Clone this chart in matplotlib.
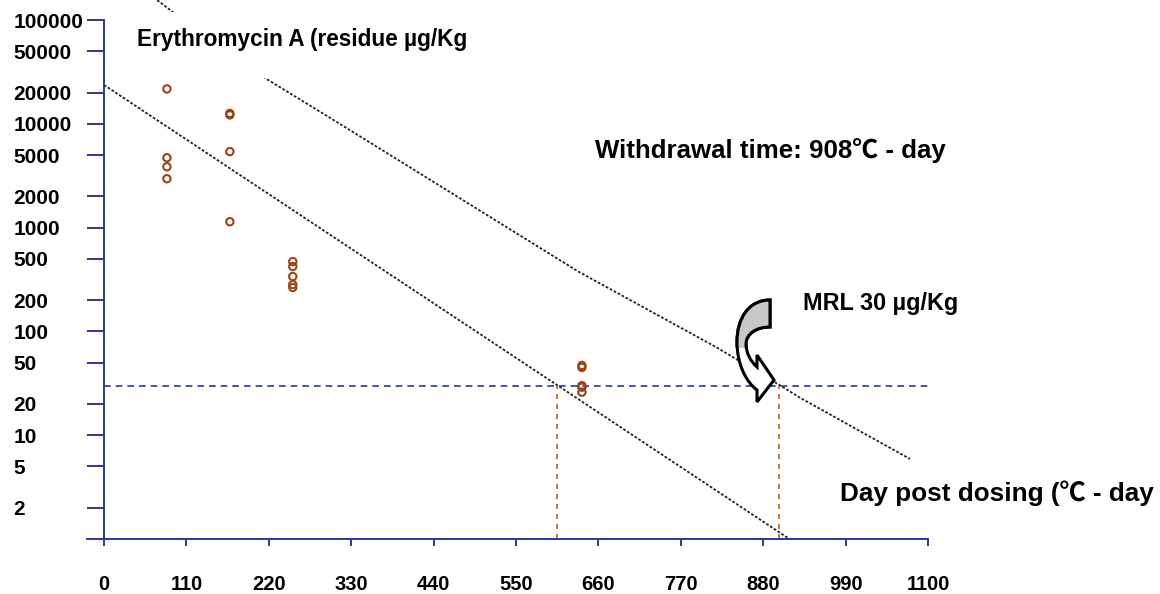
import numpy as np
import matplotlib.pyplot as plt
from matplotlib.patches import PathPatch, Rectangle
from matplotlib.path import Path

plt.rcParams['font.family'] = ['Liberation Sans', 'Noto Sans CJK SC']
plt.rcParams['font.weight'] = 'bold'

# residue samples (degree-days post dosing, ug/Kg)
sample_days = [84, 84, 84, 84, 168, 168, 168, 168, 252, 252, 252, 252, 252, 638, 638, 638, 638, 638]
sample_residue = [21700, 4710, 3860, 2960, 12200, 12600, 5400, 1140,
                  471, 422, 338, 283, 265, 45, 47, 30, 29, 26]

# regression line and upper tolerance limit
reg_days = [0, 915]
reg_residue = [23700, 1]
tol_days = [71, 92, 219, 302, 633, 818, 900, 929, 1076]
tol_residue = [155700, 119400, 26500, 11400, 378, 70, 31, 23, 5.9]

mrl = 30
cross_reg = 605
cross_tol = 901

xticks = [0, 110, 220, 330, 440, 550, 660, 770, 880, 990, 1100]
yticks = [2, 5, 10, 20, 50, 100, 200, 500, 1000, 2000, 5000, 10000, 20000, 50000, 100000]

navy = '#2b3990'
W, H = 1160, 594


def px(x, y):
    # picture pixel (from top left) -> figure fraction
    return (x / W, 1 - y / H)


fig = plt.figure(figsize=(11.6, 5.94), dpi=100)
ax = fig.add_axes([87 / W, 55 / H, 1073 / W, 539 / H])
ax.set_yscale('log')
ax.set_xlim(-22.7, 1409.7)
ax.set_ylim(1, 1.56e5)

ax.spines['top'].set_visible(False)
ax.spines['right'].set_visible(False)
ax.spines['left'].set_position(('data', 0))
ax.spines['left'].set_bounds(1, 100000)
ax.spines['bottom'].set_bounds(-22.7, 1100)
for s in ['left', 'bottom']:
    ax.spines[s].set_color(navy)
    ax.spines[s].set_linewidth(1.4)

ax.yaxis.set_major_locator(plt.FixedLocator(yticks))
ax.yaxis.set_minor_locator(plt.NullLocator())
ax.set_yticklabels([str(v) for v in yticks])
ax.set_xticks(xticks)
ax.set_xticklabels([str(v) for v in xticks])
ax.tick_params(axis='y', direction='out', length=12, width=1.4, color=navy, pad=53, labelsize=15)
ax.tick_params(axis='x', direction='out', length=5, width=1.4, color=navy, pad=21, labelsize=14.5)
for lbl in ax.get_yticklabels():
    lbl.set_horizontalalignment('left')

# lines
ax.plot(reg_days, reg_residue, color='#222222', lw=1.3, ls=(0, (1.5, 1)))
ax.plot(tol_days, tol_residue, color='#222222', lw=1.3, ls=(0, (1.5, 1)))
ax.plot([0, 1100], [mrl, mrl], color=navy, lw=1.2, ls=(0, (4, 3)))
ax.plot([cross_reg, cross_reg], [1, mrl], color='#b5651d', lw=1.2, ls=(0, (3, 3)))
ax.plot([cross_tol, cross_tol], [1, mrl], color='#b5651d', lw=1.2, ls=(0, (3, 3)))

ax.scatter(sample_days, sample_residue, s=28, facecolors='none', edgecolors='#9a4418', linewidths=1.5, zorder=3)

# white box behind the title
fig.patches.append(Rectangle(px(140, 78), 340 / W, 66 / H,
                             transform=fig.transFigure, facecolor='white', edgecolor='none', zorder=2))
fig.text(*px(137, 46), 'Erythromycin A (residue µg/Kg', fontsize=16.3, fontweight='bold', zorder=3)
fig.text(*px(595, 158), 'Withdrawal time: 908℃ - day', fontsize=18.6, fontweight='bold')
fig.text(*px(803, 310), 'MRL 30 µg/Kg', fontsize=16.8, fontweight='bold')
fig.text(*px(840, 501), 'Day post dosing (℃ - day', fontsize=18.8, fontweight='bold')

# curved block arrow pointing at the MRL crossing, grey on the upper half
verts = [(770, 300),
         (749, 300), (737, 318), (737, 342),
         (737, 364), (746, 382), (757, 390),
         (757, 402), (774, 380), (757, 355), (757, 367),
         (750, 361), (746, 352), (746, 344),
         (746, 334), (756, 327), (770, 327),
         (770, 300)]
codes = ([Path.MOVETO] + [Path.CURVE4] * 6 + [Path.LINETO] * 4
         + [Path.CURVE4] * 6 + [Path.CLOSEPOLY])
arrow_path = Path([px(x, y) for x, y in verts], codes)
fig.patches.append(PathPatch(arrow_path, transform=fig.transFigure, facecolor='white',
                             edgecolor='black', lw=2.2, joinstyle='miter', zorder=4))
grey = PathPatch(arrow_path, transform=fig.transFigure, facecolor='#c8c8c8',
                 edgecolor='black', lw=2.2, joinstyle='miter', zorder=5)
fig.patches.append(grey)
grey.set_clip_path(Rectangle(px(0, 348), 1, 1, transform=fig.transFigure))

fig.savefig('out.png', dpi=100)
